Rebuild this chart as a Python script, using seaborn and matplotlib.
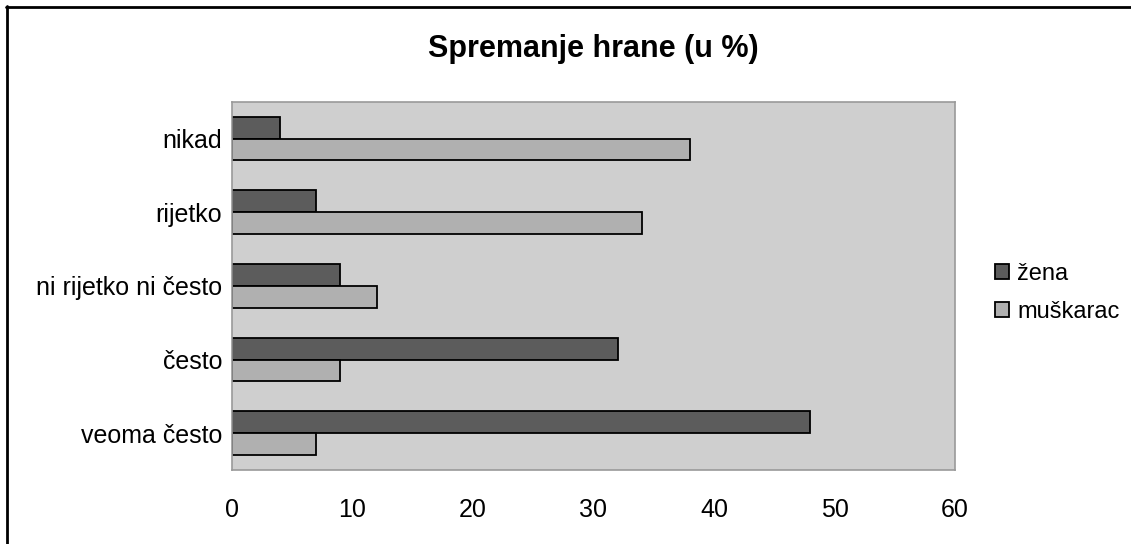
import pandas as pd
import seaborn as sns
import matplotlib.pyplot as plt
from matplotlib.lines import Line2D

categories = ["nikad", "rijetko", "ni rijetko ni često", "često", "veoma često"]
zena = [4, 7, 9, 32, 48]
muskarac = [38, 34, 12, 9, 7]
series = ["žena", "muškarac"]
xticks = [0, 10, 20, 30, 40, 50, 60]

df = pd.DataFrame({
    "kategorija": categories * 2,
    "vrijednost": zena + muskarac,
    "spol": [series[0]] * len(categories) + [series[1]] * len(categories),
})

sns.set_style("white")
plt.rcParams["font.family"] = ["Liberation Sans", "DejaVu Sans"]
plt.rcParams["text.color"] = "black"
plt.rcParams["xtick.color"] = "black"
plt.rcParams["ytick.color"] = "black"

fig = plt.figure(figsize=(11.31, 5.44), dpi=100)
ax = fig.add_axes([0.2051, 0.136, 0.6393, 0.677])

sns.barplot(
    data=df, y="kategorija", x="vrijednost", hue="spol",
    order=categories, hue_order=series, orient="h",
    palette={"žena": "#5c5c5c", "muškarac": "#b0b0b0"},
    edgecolor="black", linewidth=1.3, width=0.59, gap=0,
    ax=ax,
)

ax.set_facecolor("#cfcfcf")
ax.set_xlim(0, 60)
ax.set_xticks(xticks)
ax.set_xticklabels([str(t) for t in xticks], fontsize=18, color="black")
ax.tick_params(axis="x", length=0, pad=20)
ax.tick_params(axis="y", length=0, pad=7, labelsize=18, labelcolor="black")
ax.set_xlabel("")
ax.set_ylabel("")
for s in ax.spines.values():
    s.set_color("#999999")
    s.set_linewidth(1.2)

ax.set_title("Spremanje hrane (u %)", fontsize=22, fontweight="bold", pad=32, color="black")

leg = ax.legend(
    loc="center left", bbox_to_anchor=(1.026, 0.481), frameon=False,
    fontsize=17, handlelength=0.6, handleheight=0.6, handletextpad=0.35,
    labelspacing=0.7,
)
for t in leg.get_texts():
    t.set_color("black")

# outer frame (top and left edge only, like the source image)
fig.add_artist(Line2D([6 / 1131, 1.0], [1 - 6.5 / 544] * 2, transform=fig.transFigure,
                      color="black", linewidth=2))
fig.add_artist(Line2D([6.5 / 1131] * 2, [0.0, 1 - 6 / 544], transform=fig.transFigure,
                      color="black", linewidth=2))

fig.savefig("out.png", dpi=100)
